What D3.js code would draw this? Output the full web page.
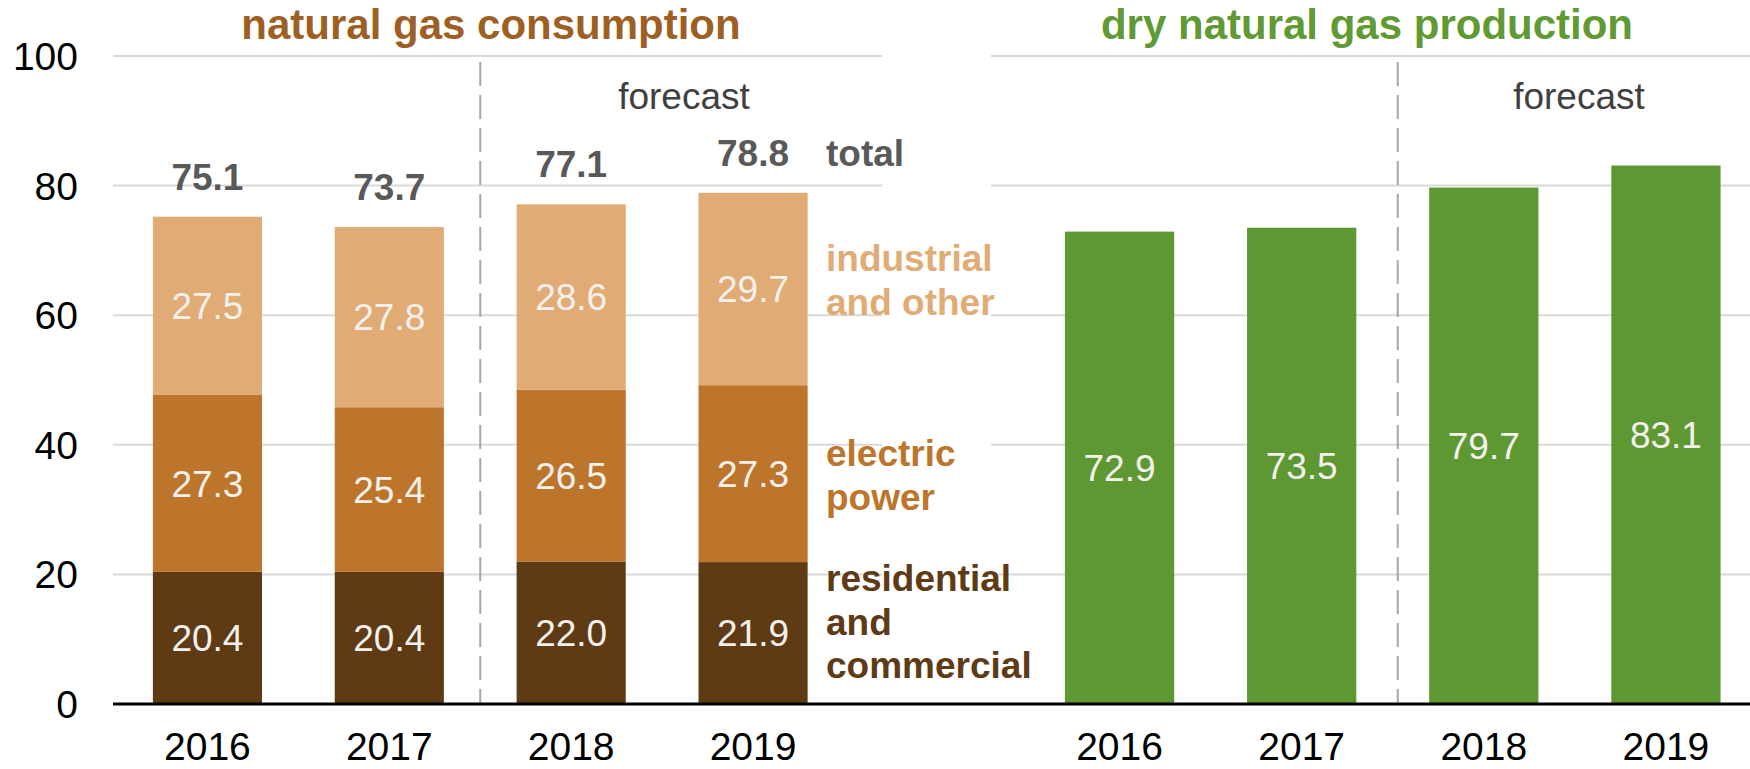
<!DOCTYPE html>
<html>
  <head>
    <meta charset="utf-8">
    <title>Natural gas consumption and production</title>
    <style>
      body { margin: 0; background: #fff; }
      text { font-family: "Liberation Sans", Arial, sans-serif; }
      .grid { stroke: #d9d9d9; stroke-width: 2px; }
      .divider { stroke: #a6a6a6; stroke-width: 2px; stroke-dasharray: 24, 9; }
      .axis-line { stroke: #000; stroke-width: 3px; }
      .tick { font-size: 39px; fill: #000; }
      .value { font-size: 37px; fill: #f4f1ec; }
      .total { font-size: 37px; font-weight: bold; fill: #595959; }
      .series-label { font-size: 37px; font-weight: bold; }
      .title { font-size: 42px; font-weight: bold; }
      .forecast { font-size: 37px; fill: #404040; }
    </style>
  </head>
  <body>
    <script src="https://d3js.org/d3.v7.min.js"></script>
    <script>
      const years = ["2016", "2017", "2018", "2019"];
      const residential = [20.4, 20.4, 22.0, 21.9];
      const electric = [27.3, 25.4, 26.5, 27.3];
      const industrial = [27.5, 27.8, 28.6, 29.7];
      const totals = [75.1, 73.7, 77.1, 78.8];
      const production = [72.9, 73.5, 79.7, 83.1];
      const yTicks = [0, 20, 40, 60, 80, 100];

      const width = 1750;
      const height = 769;

      const colors = {
        residential: "#5e3a15",
        electric: "#bd752c",
        industrial: "#e1ab75",
        production: "#5e9833",
        consTitle: "#9e5f24",
        prodTitle: "#5f9a33"
      };

      const svg = d3.select("body")
        .append("svg")
        .attr("width", width)
        .attr("height", height);

      const y = d3.scaleLinear().domain([0, 100]).range([704, 56]);

      const xLeft = d3.scaleBand().domain(years).range([116.5, 844]).paddingInner(0.4).paddingOuter(0.2);
      const xRight = d3.scaleBand().domain(years).range([1028.5, 1757]).paddingInner(0.4).paddingOuter(0.2);

      // gridlines
      const panels = [[113, 882], [991, 1750]];
      panels.forEach(p => {
        svg.selectAll(null)
          .data(yTicks.filter(t => t > 0))
          .enter()
          .append("line")
          .attr("class", "grid")
          .attr("x1", p[0])
          .attr("x2", p[1])
          .attr("y1", d => y(d))
          .attr("y2", d => y(d));
      });

      // y tick labels
      svg.selectAll(".tick")
        .data(yTicks)
        .enter()
        .append("text")
        .attr("class", "tick")
        .attr("x", 78)
        .attr("y", d => y(d))
        .attr("dy", "0.36em")
        .attr("text-anchor", "end")
        .text(d => d);

      // forecast dividers (right one sits a little right of the gap, as in the source)
      [[xLeft, 0], [xRight, 5]].forEach(([x, shift]) => {
        const xd = x("2018") - x.step() * x.paddingInner() / 2 + shift;
        svg.append("line")
          .attr("class", "divider")
          .attr("x1", xd)
          .attr("x2", xd)
          .attr("y1", 62)
          .attr("y2", y(0));
      });

      // stacked consumption bars
      const stackData = years.map((yr, i) => ({
        year: yr,
        residential: residential[i],
        electric: electric[i],
        industrial: industrial[i]
      }));
      const keys = ["residential", "electric", "industrial"];
      const series = d3.stack().keys(keys)(stackData);

      const groups = svg.selectAll(".layer")
        .data(series)
        .enter()
        .append("g")
        .attr("class", "layer")
        .attr("fill", d => colors[d.key]);

      groups.selectAll("rect")
        .data(d => d)
        .enter()
        .append("rect")
        .attr("x", d => xLeft(d.data.year))
        .attr("width", xLeft.bandwidth())
        .attr("y", d => y(d[1]))
        .attr("height", d => y(d[0]) - y(d[1]));

      groups.selectAll("text")
        .data(d => d.map(v => ({ v, key: d.key })))
        .enter()
        .append("text")
        .attr("class", "value")
        .attr("text-anchor", "middle")
        .attr("x", d => xLeft(d.v.data.year) + xLeft.bandwidth() / 2)
        .attr("y", d => y((d.v[0] + d.v[1]) / 2))
        .attr("dy", "0.36em")
        .text(d => d.v.data[d.key].toFixed(1));

      // totals
      svg.selectAll(".total-val")
        .data(years)
        .enter()
        .append("text")
        .attr("class", "total")
        .attr("text-anchor", "middle")
        .attr("x", d => xLeft(d) + xLeft.bandwidth() / 2)
        .attr("y", (d, i) => y(series[2][i][1]) - 27)
        .text((d, i) => totals[i].toFixed(1));

      // production bars
      svg.selectAll(".prod")
        .data(production)
        .enter()
        .append("rect")
        .attr("fill", colors.production)
        .attr("x", (d, i) => xRight(years[i]))
        .attr("width", xRight.bandwidth())
        .attr("y", d => y(d))
        .attr("height", d => y(0) - y(d));

      svg.selectAll(".prod-val")
        .data(production)
        .enter()
        .append("text")
        .attr("class", "value")
        .attr("text-anchor", "middle")
        .attr("x", (d, i) => xRight(years[i]) + xRight.bandwidth() / 2)
        .attr("y", d => y(d / 2))
        .attr("dy", "0.36em")
        .text(d => d.toFixed(1));

      // zero axis
      svg.append("line")
        .attr("class", "axis-line")
        .attr("x1", 113)
        .attr("x2", 1750)
        .attr("y1", y(0))
        .attr("y2", y(0));

      // year labels
      [xLeft, xRight].forEach(x => {
        svg.selectAll(null)
          .data(years)
          .enter()
          .append("text")
          .attr("class", "tick")
          .attr("text-anchor", "middle")
          .attr("x", d => x(d) + x.bandwidth() / 2)
          .attr("y", 760)
          .text(d => d);
      });

      // series labels to the right of the last bar
      const labelX = 826;
      const seriesLabels = [
        { lines: ["total"], color: "#595959", y0: 166 },
        { lines: ["industrial", "and other"], color: colors.industrial, y0: 271 },
        { lines: ["electric", "power"], color: colors.electric, y0: 466 },
        { lines: ["residential", "and", "commercial"], color: colors.residential, y0: 591 }
      ];
      seriesLabels.forEach(s => {
        const t = svg.append("text")
          .attr("class", "series-label")
          .attr("fill", s.color)
          .attr("x", labelX)
          .attr("y", s.y0);
        s.lines.forEach((l, i) => {
          t.append("tspan")
            .attr("x", labelX)
            .attr("dy", i === 0 ? 0 : 43.5)
            .text(l);
        });
      });

      // titles
      svg.append("text")
        .attr("class", "title")
        .attr("fill", colors.consTitle)
        .attr("text-anchor", "middle")
        .attr("x", 491)
        .attr("y", 39)
        .text("natural gas consumption");

      svg.append("text")
        .attr("class", "title")
        .attr("fill", colors.prodTitle)
        .attr("text-anchor", "middle")
        .attr("x", 1367)
        .attr("y", 39)
        .text("dry natural gas production");

      // forecast labels
      svg.append("text")
        .attr("class", "forecast")
        .attr("text-anchor", "middle")
        .attr("x", 684)
        .attr("y", 109)
        .text("forecast");

      svg.append("text")
        .attr("class", "forecast")
        .attr("text-anchor", "middle")
        .attr("x", 1579)
        .attr("y", 109)
        .text("forecast");
    </script>
  </body>
</html>
